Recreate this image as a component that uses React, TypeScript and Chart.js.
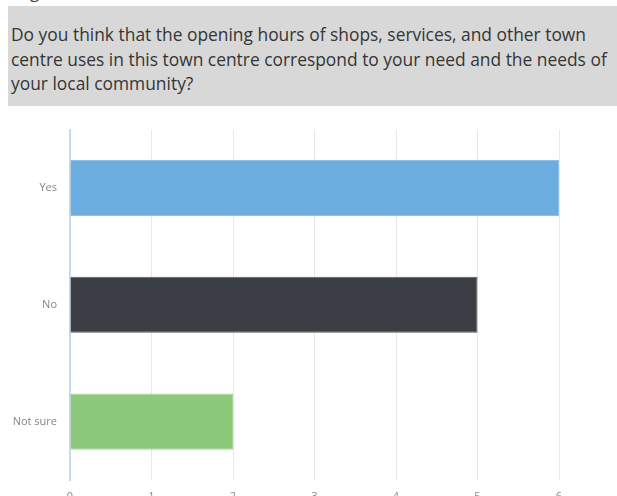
import React, { useEffect, useRef } from "react";
import { Chart, registerables } from "chart.js";

Chart.register(...registerables);

const categories = ["Yes", "No", "Not sure"];
const values = [6, 5, 2];
const barColors = ["#6badde", "#3b3e45", "#8cc97b"];
const xTicks = [0, 1, 2, 3, 4, 5, 6];
const questionLines = [
  "Do you think that the opening hours of shops, services, and other town",
  "centre uses in this town centre correspond to your need and the needs of",
  "your local community?",
];

export default function App() {
  const canvasRef = useRef<HTMLCanvasElement | null>(null);

  useEffect(() => {
    const canvas = canvasRef.current;
    if (!canvas) return;
    const chart = new Chart(canvas, {
      type: "bar",
      data: {
        labels: categories,
        datasets: [
          {
            data: values,
            backgroundColor: barColors,
            borderColor: ["#8cc0e6", "#55585e", "#a3d496"],
            borderWidth: 1,
            categoryPercentage: 1,
            barPercentage: 0.48,
          },
        ],
      },
      options: {
        indexAxis: "y",
        animation: false,
        responsive: false,
        maintainAspectRatio: false,
        layout: { padding: { left: 0, right: 58, top: 19, bottom: 0 } },
        plugins: { legend: { display: false }, tooltip: { enabled: false } },
        scales: {
          x: {
            type: "linear",
            min: 0,
            max: 6,
            afterBuildTicks: (scale: any) => {
              scale.ticks = xTicks.map((v) => ({ value: v }));
            },
            afterFit: (scale: any) => {
              scale.height = 30;
            },
            grid: { color: "#e8e8e8", lineWidth: 1, drawTicks: false },
            border: { display: false },
            ticks: {
              padding: 10,
              color: "#8a8a8a",
              font: { family: "Open Sans", size: 11 },
            },
          },
          y: {
            afterFit: (scale: any) => {
              scale.width = 70;
            },
            grid: { display: false, drawTicks: false },
            border: { display: true, color: "#c6daee", width: 2 },
            ticks: {
              padding: 13,
              color: "#858585",
              font: { family: "Open Sans", size: 11 },
            },
          },
        },
      },
    });
    return () => chart.destroy();
  }, []);

  return (
    <div
      style={{
        position: "fixed",
        left: 0,
        top: 0,
        width: 617,
        height: 496,
        overflow: "hidden",
        background: "#ffffff",
      }}
    >
      <div
        style={{
          position: "absolute",
          left: 30,
          top: -17,
          fontFamily: "Open Sans",
          fontSize: 17,
          lineHeight: "17px",
          color: "#444",
        }}
      >
        g
      </div>
      <div
        style={{
          position: "absolute",
          left: 8,
          top: 6,
          width: 609,
          height: 100,
          background: "#d8d8d8",
        }}
      />
      <div
        style={{
          position: "absolute",
          left: 11,
          top: 22,
          fontFamily: "Open Sans",
          fontSize: 17.4,
          letterSpacing: "0px",
          lineHeight: "24.5px",
          color: "#353535",
          whiteSpace: "nowrap",
        }}
      >
        {questionLines.map((l, i) => (
          <div key={i}>{l}</div>
        ))}
      </div>
      <canvas
        ref={canvasRef}
        width={617}
        height={400}
        style={{ position: "absolute", left: 0, top: 110, width: 617, height: 400 }}
      />
    </div>
  );
}
